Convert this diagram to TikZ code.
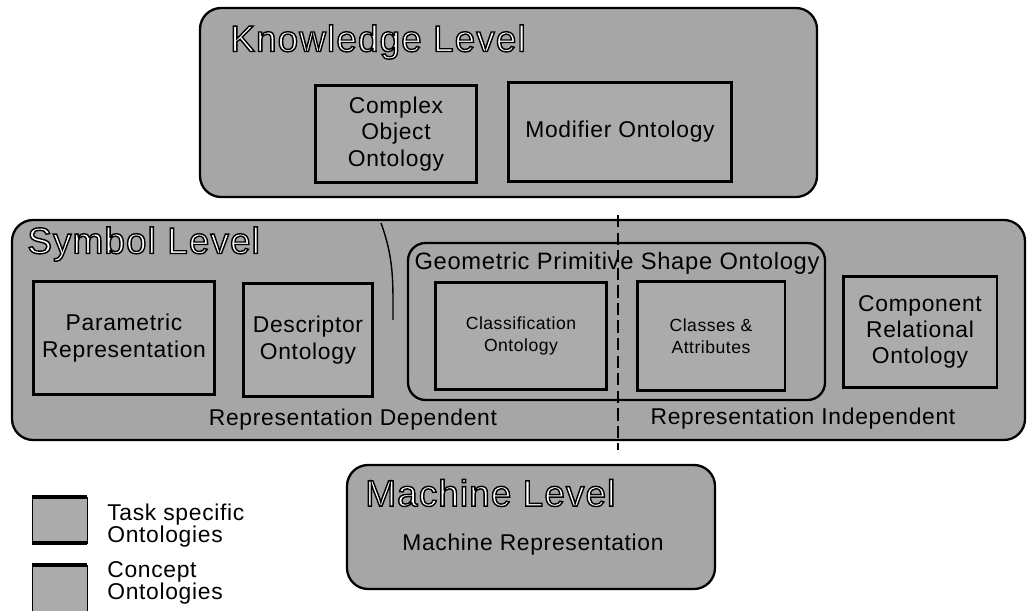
\documentclass[tikz,border=0pt]{standalone}
\usepackage{fontspec}
\setmainfont{Liberation Sans}[LetterSpace=3]
\usetikzlibrary{positioning}
\usetikzlibrary{calc}
\tikzstyle{level}=[draw,line width=1.3pt,fill=black!35,rounded corners=12pt]
\tikzstyle{onto}=[draw,line width=1.7pt,fill=black!33,align=center,inner sep=1pt,font=\fontsize{13}{15}\selectfont]
\tikzstyle{small}=[font=\fontsize{10}{12.5}\selectfont]
\tikzstyle{title}=[anchor=west,inner sep=0pt,font=\fontsize{21}{22}\selectfont]
\tikzstyle{caption}=[inner sep=0pt,font=\fontsize{13}{15}\selectfont]
% white letters with a black outline
\newcommand{\outl}[1]{\textcolor{white}{\special{pdf:literal direct 2 Tr 0.8 w 0 G}#1\special{pdf:literal direct 0 Tr}}}

\begin{document}
\begin{tikzpicture}[x=0.02cm,y=-0.02cm]
\useasboundingbox (0,0) rectangle (1028,611);
% the three levels
\draw[level] (200,8) rectangle (817,197);
\draw[level] (12,220) rectangle (1025,440);
\draw[level] (347,465) rectangle (715,589);
\node [title] (kl) at (230,42) {\outl{Knowledge Level}};
\node [title] (sl) at (27,244) {\outl{Symbol Level}};
\node [title] (ml) at (365,493) {\outl{Machine Level}};

% knowledge level
\node [onto,minimum width=3.24cm,minimum height=1.94cm] (cplx) at (396,134) {Complex\\Object\\Ontology};
\node [onto,minimum width=4.46cm,minimum height=1.98cm] (modif) at (620,132) {Modifier Ontology};

% symbol level
\draw[line width=1.3pt,fill=black!35,rounded corners=10pt] (408,243) rectangle (825,400);
\node [inner sep=0pt,font=\fontsize{13.5}{15}\selectfont] (geo) at (617,263) {Geometric Primitive Shape Ontology};
\node [onto,minimum width=3.64cm,minimum height=2.26cm] (param) at (124,338) {Parametric\\Representation};
\node [onto,minimum width=2.58cm,minimum height=2.28cm] (descr) at (308,340) {Descriptor\\Ontology};
\node [onto,small,minimum width=3.44cm,minimum height=2.14cm] (classif) at (521,336) {Classification\\Ontology};
\node [onto,small,minimum width=2.96cm,minimum height=2.18cm] (attr) at (711,336) {Classes \&\\Attributes};
\node [onto,minimum width=3.08cm,minimum height=2.24cm] (comp) at (920,332) {Component\\Relational\\Ontology};
\node [caption] (dep) at (353,420) {Representation Dependent};
\node [caption] (indep) at (803,419) {Representation Independent};

\coordinate (T) at (618,215);
\coordinate (B) at (618,450);
\draw[dash pattern=on 7pt off 3pt,line width=0.8pt] (T) -- (B);
\coordinate (P) at (381,223);
\coordinate (Q) at (393,320);
\draw[line width=0.8pt] (P) to[out=-70,in=90] (Q);

% machine level
\node [caption] (mrep) at (533,545) {Machine Representation};

% legend
\fill[black!33] (32,497) rectangle (87,543);
\draw[line width=0.3pt] (32,497) rectangle (87,543);
\draw[line width=2pt] (32,497) -- (87,497) (32,543) -- (87,543);
\fill[black!33] (32,565) rectangle (87,611);
\draw[line width=0.3pt] (32,611) -- (32,565) -- (87,565) -- (87,611);
\draw[line width=2pt] (32,565) -- (87,565);
\node [anchor=west,align=left,inner sep=0pt,font=\fontsize{13}{12.5}\selectfont] (task) at (107,526) {Task specific\\Ontologies};
\node [anchor=west,align=left,inner sep=0pt,font=\fontsize{13}{12.5}\selectfont] (concept) at (107,583) {Concept\\Ontologies};
\end{tikzpicture}
\end{document}
